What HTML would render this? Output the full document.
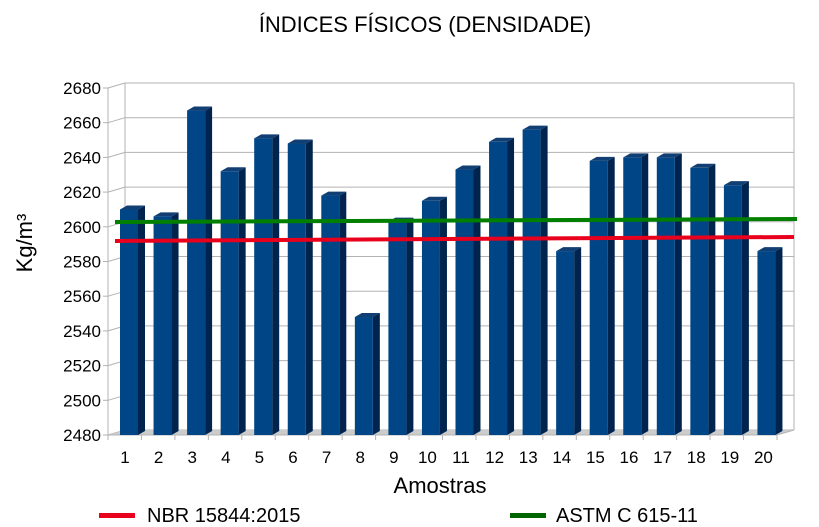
<!DOCTYPE html>
<html><head><meta charset="utf-8"><style>
body{margin:0;background:#fff;}
svg{display:block;font-family:"Liberation Sans",sans-serif;}
</style></head><body>
<svg id="s" width="819" height="527" viewBox="0 0 819 527"></svg>
<script>
const s=document.getElementById('s');let h='';
const vals=[2610,2606,2667,2632,2651,2648,2618,2548,2603,2615,2633,2649,2656,2586,2638,2640,2640,2634,2624,2586];
const fy=v=>435-(v-2480)*1.735;
const dx=17,dy=5;
for(let v=2480;v<=2680;v+=20){const y=fy(v);
h+=`<line x1="108" y1="${y}" x2="${108+dx}" y2="${y-dy}" stroke="#b3b3b3"/>`;
h+=`<line x1="${108+dx}" y1="${y-dy}" x2="794" y2="${y-dy}" stroke="#b3b3b3"/>`;
h+=`<line x1="103" y1="${y}" x2="108" y2="${y}" stroke="#b3b3b3"/>`;
h+=`<text x="101" y="${y+6}" font-size="17" text-anchor="end" fill="#000">${v}</text>`;}
h+=`<line x1="${108+dx}" y1="${fy(2680)-dy}" x2="${108+dx}" y2="${435-dy}" stroke="#b3b3b3"/>`;
h+=`<line x1="794" y1="${fy(2680)-dy}" x2="794" y2="${435-dy}" stroke="#b3b3b3"/>`;
h+=`<line x1="108" y1="${fy(2680)}" x2="108" y2="435" stroke="#b3b3b3"/>`;
h+=`<polygon points="108,435 125,430 794,430 777,435" fill="#ccc"/>`;
h+=`<line x1="108" y1="435" x2="777" y2="435" stroke="#b3b3b3"/>`;
h+=`<line x1="777" y1="435" x2="794" y2="430" stroke="#b3b3b3"/>`;
for(let i=0;i<=20;i++){const x=108+33.45*i;h+=`<line x1="${x}" y1="435" x2="${x}" y2="440" stroke="#b3b3b3"/>`;}
vals.forEach((v,i)=>{const x=120+33.55*i,y=fy(v),w=18,d=7,t=4;
h+=`<polygon points="${x+w},${y} ${x+w+d},${y-t} ${x+w+d},${435-t} ${x+w},435" fill="#00244d"/>`;
h+=`<polygon points="${x},${y} ${x+d},${y-t} ${x+w+d},${y-t} ${x+w},${y}" fill="#123f73"/>`;
h+=`<rect x="${x}" y="${y}" width="${w}" height="${435-y}" fill="#004586"/>`;
h+=`<text x="${125+33.6*i}" y="463" font-size="17" text-anchor="middle">${i+1}</text>`;});
h+=`<line x1="115" y1="222" x2="797" y2="219" stroke="#007f00" stroke-width="4"/>`;
h+=`<line x1="115" y1="241" x2="794" y2="237" stroke="#e8001c" stroke-width="4"/>`;
h+=`<text x="425" y="32" font-size="22" text-anchor="middle">ÍNDICES FÍSICOS (DENSIDADE)</text>`;
h+=`<text x="440" y="493" font-size="22" text-anchor="middle">Amostras</text>`;
h+=`<text transform="translate(32,243) rotate(-90)" font-size="22" text-anchor="middle">Kg/m³</text>`;
h+=`<rect x="99" y="513" width="36" height="5" fill="#e8001c"/><text x="147" y="522" font-size="20">NBR 15844:2015</text>`;
h+=`<rect x="510" y="513" width="36" height="5" fill="#006400"/><text x="556" y="522" font-size="20">ASTM C 615-11</text>`;
s.innerHTML=h;
</script>
</body></html>
